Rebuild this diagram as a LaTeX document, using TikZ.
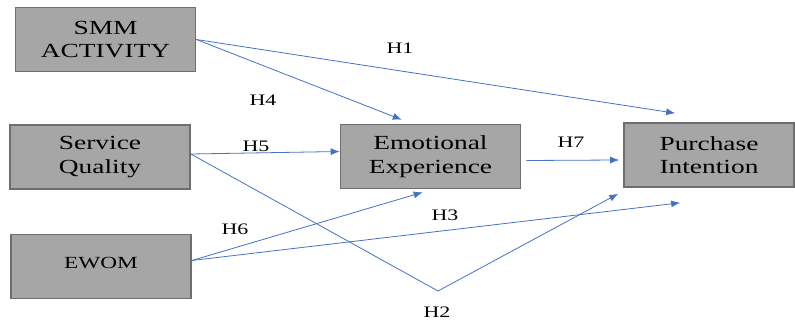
\documentclass[tikz,border=0pt]{standalone}
\usepackage{fontspec}
\setmainfont{Liberation Serif}
\newfontfamily\diagfont[FakeStretch=1.37]{Liberation Serif}
\usepackage{tikz}
\usetikzlibrary{arrows.meta}
\usepackage{xcolor}
\definecolor{boxgray}{HTML}{A6A6A6}
\definecolor{boxline}{HTML}{6E6E6E}
\definecolor{linkblue}{HTML}{4472C4}

\begin{document}
\begin{tikzpicture}[x=1pt, y=-1pt,
    construct/.style={draw=boxline, fill=boxgray, line width=1.6pt,
                      minimum width=180pt, minimum height=64pt,
                      align=center, font=\diagfont\fontsize{20}{23.5}\selectfont},
    hyp/.style={font=\diagfont\fontsize{16}{18}\selectfont},
    link/.style={draw=linkblue, line width=0.8pt, -{Latex[length=9pt,width=7pt]}}]

\useasboundingbox (0,0) rectangle (795,323);

% constructs
\node[construct] (smm)  at (105.5,39.5) {SMM\\ACTIVITY};
\node[construct] (sq)   at (100,157)    {Service\\Quality};
\node[construct, font=\diagfont\fontsize{17}{20}\selectfont, text depth=8pt] (ewom) at (101,266.5) {EWOM};
\node[construct] (ee)   at (430.5,156.5) {Emotional\\Experience};
\node[construct, minimum width=170pt] (pi) at (709,155) {Purchase\\Intention};

% bend point of H2
\coordinate (bend) at (438,291);

% paths
\draw[link] (smm.east) -- ([shift={(52,-9)}]pi.north west);
\draw[link] (smm.east) -- ([shift={(62,-4)}]ee.north west);
\draw[link] ([yshift=3]sq.east) -- ([yshift=5]ee.west);
\draw[link, -] ([yshift=3]sq.east) -- (bend);
\draw[link] (bend) -- ([shift={(-5,6)}]pi.south west);
\draw[link] ([yshift=6]ewom.east) -- ([shift={(83,3)}]ee.south west);
\draw[link] ([yshift=6]ewom.east) -- ([shift={(57,15)}]pi.south west);
\draw[link] ([shift={(5,4)}]ee.east) -- ([shift={(-4,5)}]pi.west);

% hypothesis labels
\node[hyp] (h1) at (400,48)  {H1};
\node[hyp] (h2) at (437,312) {H2};
\node[hyp] (h3) at (445,215) {H3};
\node[hyp] (h4) at (263,100) {H4};
\node[hyp] (h5) at (256,146) {H5};
\node[hyp] (h6) at (235,229) {H6};
\node[hyp] (h7) at (571,142) {H7};
\end{tikzpicture}
\end{document}
